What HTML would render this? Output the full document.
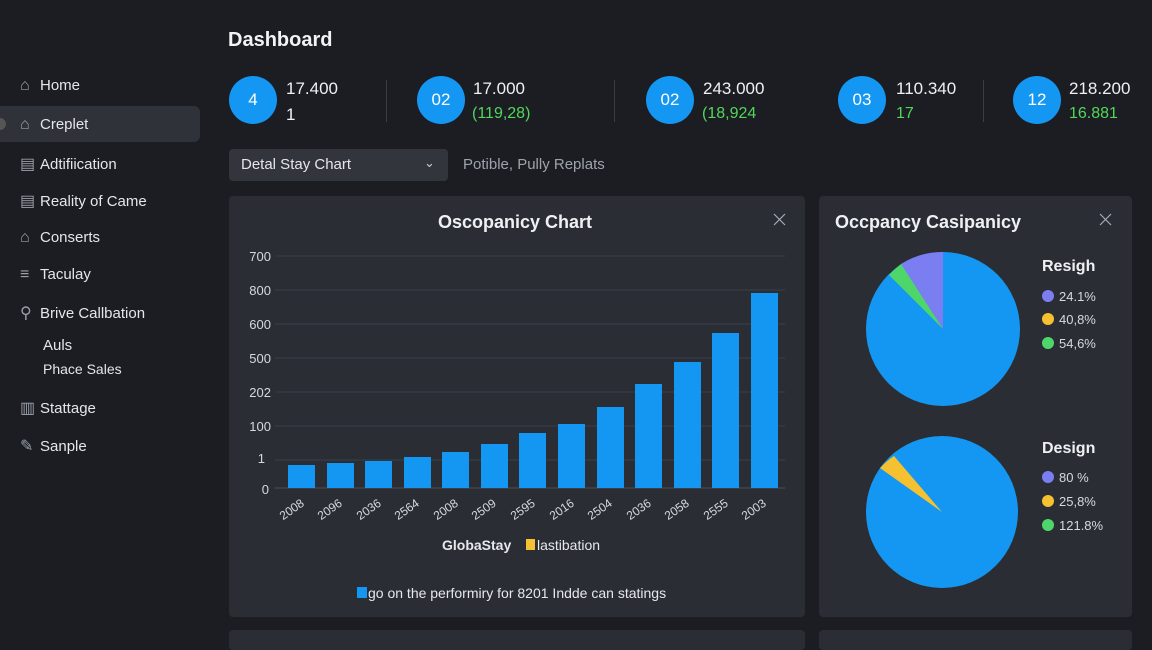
<!DOCTYPE html>
<html><head><meta charset="utf-8"><style>
*{margin:0;padding:0;box-sizing:border-box}
body{width:1152px;height:640px;background:#1b1d23;font-family:"Liberation Sans",sans-serif;color:#e8eaee;position:relative;overflow:hidden}
.a{position:absolute;white-space:nowrap}
.nav{font-size:15px;color:#e4e6ea}
.ic{color:#9aa0aa;font-size:16px;display:inline-block;width:20px}
.circ{position:absolute;width:48px;height:48px;border-radius:50%;background:#1497f2;color:#fff;font-size:17px;text-align:center;line-height:48px}
.v{font-size:17px;color:#eef0f3}
.g{font-size:16px;color:#54d65a}
.card{position:absolute;background:#2a2d34;border-radius:4px}
</style></head><body>
<div class="a" style="left:0;top:106px;width:200px;height:36px;background:#2f3239;border-radius:0 6px 6px 0"></div>
<div class="a" style="left:0;top:118px;width:6px;height:12px;background:#555;border-radius:0 6px 6px 0"></div>
<div class="a nav" style="left:20px;top:77px"><span class="ic">⌂</span>Home</div>
<div class="a nav" style="left:20px;top:116px"><span class="ic">⌂</span>Creplet</div>
<div class="a nav" style="left:20px;top:154px"><span class="ic">▤</span>Adtifiication</div>
<div class="a nav" style="left:20px;top:191px"><span class="ic">▤</span>Reality of Came</div>
<div class="a nav" style="left:20px;top:229px"><span class="ic">⌂</span>Conserts</div>
<div class="a nav" style="left:20px;top:266px"><span class="ic">≡</span>Taculay</div>
<div class="a nav" style="left:20px;top:303px"><span class="ic">⚲</span>Brive Callbation</div>
<div class="a nav" style="left:43px;top:337px">Auls</div>
<div class="a nav" style="left:43px;top:361px;font-size:14px">Phace Sales</div>
<div class="a nav" style="left:20px;top:398px"><span class="ic">▥</span>Stattage</div>
<div class="a nav" style="left:20px;top:436px"><span class="ic">✎</span>Sanple</div>

<div class="a" style="left:228px;top:29px;font-size:20px;font-weight:bold;color:#f2f3f5">Dashboard</div>

<div class="circ" style="left:229px;top:76px">4</div>
<div class="a v" style="left:286px;top:79px">17.400</div><div class="a v" style="left:286px;top:105px">1</div>
<div class="a" style="left:386px;top:80px;width:1px;height:42px;background:#3a3d44"></div>
<div class="circ" style="left:417px;top:76px">02</div>
<div class="a v" style="left:473px;top:79px">17.000</div><div class="a g" style="left:472px;top:105px">(119,28)</div>
<div class="a" style="left:614px;top:80px;width:1px;height:42px;background:#3a3d44"></div>
<div class="circ" style="left:646px;top:76px">02</div>
<div class="a v" style="left:703px;top:79px">243.000</div><div class="a g" style="left:702px;top:105px">(18,924</div>
<div class="circ" style="left:838px;top:76px">03</div>
<div class="a v" style="left:896px;top:79px">110.340</div><div class="a g" style="left:896px;top:105px">17</div>
<div class="a" style="left:983px;top:80px;width:1px;height:42px;background:#3a3d44"></div>
<div class="circ" style="left:1013px;top:76px">12</div>
<div class="a v" style="left:1069px;top:79px">218.200</div><div class="a g" style="left:1069px;top:105px">16.881</div>

<div class="a" style="left:229px;top:149px;width:219px;height:32px;background:#32353c;border-radius:4px"></div>
<div class="a" style="left:241px;top:156px;font-size:15px;color:#e4e6ea">Detal Stay Chart</div>
<div class="a" style="left:424px;top:155px;font-size:13px;color:#ccc">⌄</div>
<div class="a" style="left:463px;top:156px;font-size:15px;color:#9ea3ab">Potible, Pully Replats</div>

<div class="card" style="left:229px;top:196px;width:576px;height:421px"></div>
<div class="card" style="left:819px;top:196px;width:313px;height:421px"></div>
<div class="card" style="left:229px;top:630px;width:576px;height:20px"></div>
<div class="card" style="left:819px;top:630px;width:313px;height:20px"></div>

<svg class="a" style="left:0;top:0" width="1152" height="640">
<text x="515" y="228" text-anchor="middle" font-size="18" font-weight="bold" fill="#eef0f3">Oscopanicy Chart</text>
<text x="928" y="228" text-anchor="middle" font-size="18" font-weight="bold" fill="#eef0f3">Occpancy Casipanicy</text>
<path d="M774 214l11 11M785 214l-11 11M1100 214l11 11M1111 214l-11 11" stroke="#aab" stroke-width="1.2"/>
<g stroke="#3b3f47" stroke-width="1">
<line x1="275" y1="256" x2="785" y2="256"/><line x1="275" y1="290" x2="785" y2="290"/><line x1="275" y1="324" x2="785" y2="324"/><line x1="275" y1="358" x2="785" y2="358"/><line x1="275" y1="392" x2="785" y2="392"/><line x1="275" y1="426" x2="785" y2="426"/><line x1="275" y1="460" x2="785" y2="460"/><line x1="275" y1="488" x2="785" y2="488" stroke="#4a4e56"/>
</g>
<g font-size="13" fill="#d6d9de" text-anchor="end">
<text x="271" y="261">700</text><text x="271" y="295">800</text><text x="271" y="329">600</text><text x="271" y="363">500</text><text x="271" y="397">202</text><text x="271" y="431">100</text><text x="265" y="463">1</text><text x="269" y="494">0</text>
</g>
<g fill="#1497f2">
<rect x="288" y="465" width="27" height="23"/><rect x="327" y="463" width="27" height="25"/><rect x="365" y="461" width="27" height="27"/><rect x="404" y="457" width="27" height="31"/><rect x="442" y="452" width="27" height="36"/><rect x="481" y="444" width="27" height="44"/><rect x="519" y="433" width="27" height="55"/><rect x="558" y="424" width="27" height="64"/><rect x="597" y="407" width="27" height="81"/><rect x="635" y="384" width="27" height="104"/><rect x="674" y="362" width="27" height="126"/><rect x="712" y="333" width="27" height="155"/><rect x="751" y="293" width="27" height="195"/>
</g>
<g font-size="12" fill="#d6d9de" text-anchor="end">
<text transform="translate(305,505) rotate(-35)">2008</text><text transform="translate(343,505) rotate(-35)">2096</text><text transform="translate(382,505) rotate(-35)">2036</text><text transform="translate(420,505) rotate(-35)">2564</text><text transform="translate(459,505) rotate(-35)">2008</text><text transform="translate(497,505) rotate(-35)">2509</text><text transform="translate(536,505) rotate(-35)">2595</text><text transform="translate(575,505) rotate(-35)">2016</text><text transform="translate(613,505) rotate(-35)">2504</text><text transform="translate(652,505) rotate(-35)">2036</text><text transform="translate(690,505) rotate(-35)">2058</text><text transform="translate(729,505) rotate(-35)">2555</text><text transform="translate(767,505) rotate(-35)">2003</text>
</g>
<text x="442" y="550" font-size="14" fill="#e6e8ec" font-weight="bold">GlobaStay</text>
<rect x="526" y="539" width="9" height="11" fill="#f5c131"/>
<text x="537" y="550" font-size="14" fill="#e6e8ec">lastibation</text>
<rect x="357" y="587" width="10" height="11" fill="#1497f2"/>
<text x="368" y="598" font-size="14" fill="#e6e8ec">go on the performiry for 8201 Indde can statings</text>

<circle cx="943" cy="329" r="77" fill="#1497f2"/>
<path d="M943 329L943 252A77 77 0 0 0 901 264Z" fill="#7b7ef0"/>
<path d="M943 329L901 264A77 77 0 0 0 889 275Z" fill="#4fd66a"/>
<circle cx="942" cy="512" r="76" fill="#1497f2"/>
<path d="M942 512L894 456A76 76 0 0 0 880 468Z" fill="#f5c131"/>

<text x="1042" y="271" font-size="16" font-weight="bold" fill="#eef0f3">Resigh</text>
<circle cx="1048" cy="296" r="6" fill="#7b7ef0"/><text x="1059" y="301" font-size="13" fill="#d6d9de">24.1%</text>
<circle cx="1048" cy="319" r="6" fill="#f5c131"/><text x="1059" y="324" font-size="13" fill="#d6d9de">40,8%</text>
<circle cx="1048" cy="343" r="6" fill="#4fd66a"/><text x="1059" y="348" font-size="13" fill="#d6d9de">54,6%</text>
<text x="1042" y="453" font-size="16" font-weight="bold" fill="#eef0f3">Design</text>
<circle cx="1048" cy="477" r="6" fill="#7b7ef0"/><text x="1059" y="482" font-size="13" fill="#d6d9de">80 %</text>
<circle cx="1048" cy="501" r="6" fill="#f5c131"/><text x="1059" y="506" font-size="13" fill="#d6d9de">25,8%</text>
<circle cx="1048" cy="525" r="6" fill="#4fd66a"/><text x="1059" y="530" font-size="13" fill="#d6d9de">121.8%</text>
</svg>
</body></html>
